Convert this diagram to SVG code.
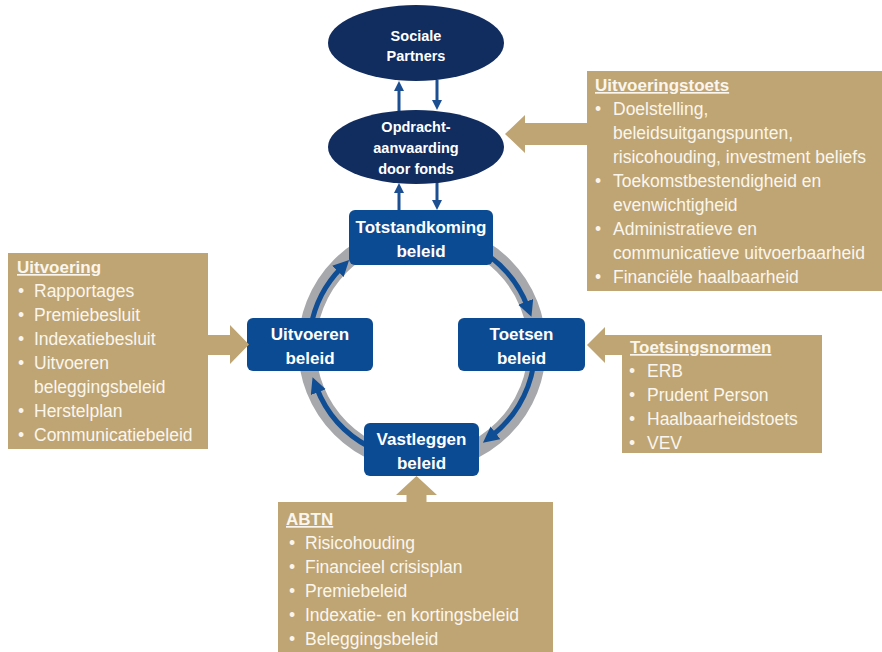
<svg xmlns="http://www.w3.org/2000/svg" width="882" height="652" viewBox="0 0 882 652">
<style>
.ell{fill:#112C5F}
.box{fill:#0B4B93}
.tan{fill:#BFA574}
.lt{font-family:"Liberation Sans",Arial,sans-serif;font-weight:bold;fill:#FFFFFF;text-anchor:middle}
.et{font-size:14.5px}
.bt{font-size:17px}
.tt{font-family:"Liberation Sans",Arial,sans-serif;font-size:17.5px;fill:#FAF6EE}
.hd{font-weight:bold;font-size:17px;text-decoration:underline}
.small{stroke:#1B4F91;stroke-width:3;fill:none}
.cyc{stroke:#0F4D95;stroke-width:5;fill:none}
</style>
<defs>
<marker id="ah" markerUnits="userSpaceOnUse" markerWidth="12" markerHeight="12" refX="4" refY="5" orient="auto">
<path d="M0,0 L10,5 L0,10 z" fill="#1B4F91"/>
</marker>
<marker id="ac" markerUnits="userSpaceOnUse" markerWidth="18" markerHeight="18" refX="5" refY="8" orient="auto">
<path d="M0,0 L16,8 L0,16 z" fill="#0F4D95"/>
</marker>
</defs>
<rect width="882" height="652" fill="#FFFFFF"/>

<g id="ring">
<circle cx="422" cy="347" r="115" fill="none" stroke="#A7A8AB" stroke-width="18"/>
</g>

<g id="connectors">
<path class="cyc" d="M310.7,327.4 A113,113 0 0 1 341.4,267.8" marker-end="url(#ac)"/>
<path class="cyc" d="M486.8,254.4 A113,113 0 0 1 527.5,306.5" marker-end="url(#ac)"/>
<path class="cyc" d="M533.3,366.6 A113,113 0 0 1 491.6,436.0" marker-end="url(#ac)"/>
<path class="cyc" d="M369.0,446.8 A113,113 0 0 1 316.5,387.5" marker-end="url(#ac)"/>
<path class="small" d="M399,111 L399,87" marker-end="url(#ah)"/>
<path class="small" d="M437,80 L437,104" marker-end="url(#ah)"/>
<path class="small" d="M399,210 L399,189" marker-end="url(#ah)"/>
<path class="small" d="M437,183 L437,204" marker-end="url(#ah)"/>
</g>

<g id="sociale-partners">
<ellipse class="ell" cx="416" cy="43" rx="88" ry="38"/>
<text class="lt et" x="416" y="41">Sociale</text>
<text class="lt et" x="416" y="61">Partners</text>
</g>

<g id="opdracht">
<ellipse class="ell" cx="416" cy="147" rx="88" ry="37"/>
<text class="lt et" x="416" y="132">Opdracht-</text>
<text class="lt et" x="416" y="153">aanvaarding</text>
<text class="lt et" x="416" y="174">door fonds</text>
</g>

<g id="totstandkoming">
<rect class="box" x="349" y="210" width="144" height="55" rx="6"/>
<text class="lt bt" x="421" y="233">Totstandkoming</text>
<text class="lt bt" x="421" y="257">beleid</text>
</g>

<g id="uitvoeren">
<rect class="box" x="247" y="318" width="126" height="53" rx="6"/>
<text class="lt bt" x="310" y="340">Uitvoeren</text>
<text class="lt bt" x="310" y="364">beleid</text>
</g>

<g id="toetsen">
<rect class="box" x="458" y="318" width="127" height="53" rx="6"/>
<text class="lt bt" x="521.5" y="340">Toetsen</text>
<text class="lt bt" x="521.5" y="364">beleid</text>
</g>

<g id="vastleggen">
<rect class="box" x="364" y="423" width="115" height="53" rx="6"/>
<text class="lt bt" x="421.5" y="445">Vastleggen</text>
<text class="lt bt" x="421.5" y="469">beleid</text>
</g>

<g id="uitvoeringstoets">
<rect class="tan" x="587" y="71" width="295" height="220"/>
<polygon class="tan" points="588,123 525,123 525,115 505,134 525,153 525,145 588,145"/>
<text class="tt hd" x="595" y="91">Uitvoeringstoets</text>
<text class="tt" x="595" y="115">•</text><text class="tt" x="613" y="115">Doelstelling,</text>
<text class="tt" x="613" y="139">beleidsuitgangspunten,</text>
<text class="tt" x="613" y="163">risicohouding, investment beliefs</text>
<text class="tt" x="595" y="187">•</text><text class="tt" x="613" y="187">Toekomstbestendigheid en</text>
<text class="tt" x="613" y="211">evenwichtigheid</text>
<text class="tt" x="595" y="235">•</text><text class="tt" x="613" y="235">Administratieve en</text>
<text class="tt" x="613" y="259">communicatieve uitvoerbaarheid</text>
<text class="tt" x="595" y="283">•</text><text class="tt" x="613" y="283">Financiële haalbaarheid</text>
</g>

<g id="uitvoering">
<rect class="tan" x="8" y="253" width="200" height="196"/>
<polygon class="tan" points="207,335 230,335 230,325 249,344.5 230,364 230,355 207,355"/>
<text class="tt hd" x="17" y="273">Uitvoering</text>
<text class="tt" x="18" y="297">•</text><text class="tt" x="34" y="297">Rapportages</text>
<text class="tt" x="18" y="321">•</text><text class="tt" x="34" y="321">Premiebesluit</text>
<text class="tt" x="18" y="345">•</text><text class="tt" x="34" y="345">Indexatiebesluit</text>
<text class="tt" x="18" y="369">•</text><text class="tt" x="34" y="369">Uitvoeren</text>
<text class="tt" x="34" y="393">beleggingsbeleid</text>
<text class="tt" x="18" y="417">•</text><text class="tt" x="34" y="417">Herstelplan</text>
<text class="tt" x="18" y="441">•</text><text class="tt" x="34" y="441">Communicatiebeleid</text>
</g>

<g id="toetsingsnormen">
<rect class="tan" x="622" y="335" width="200" height="118"/>
<polygon class="tan" points="623,335 605,335 605,327 587,345 605,363 605,355 623,355"/>
<text class="tt hd" x="630" y="353">Toetsingsnormen</text>
<text class="tt" x="629" y="377">•</text><text class="tt" x="647" y="377">ERB</text>
<text class="tt" x="629" y="401">•</text><text class="tt" x="647" y="401">Prudent Person</text>
<text class="tt" x="629" y="425">•</text><text class="tt" x="647" y="425">Haalbaarheidstoets</text>
<text class="tt" x="629" y="449">•</text><text class="tt" x="647" y="449">VEV</text>
</g>

<g id="abtn">
<rect class="tan" x="278" y="502" width="275" height="150"/>
<polygon class="tan" points="406.5,503 406.5,495 396,495 416.5,476 437,495 426.5,495 426.5,503"/>
<text class="tt hd" x="286" y="525">ABTN</text>
<text class="tt" x="289" y="549">•</text><text class="tt" x="305" y="549">Risicohouding</text>
<text class="tt" x="289" y="573">•</text><text class="tt" x="305" y="573">Financieel crisisplan</text>
<text class="tt" x="289" y="597">•</text><text class="tt" x="305" y="597">Premiebeleid</text>
<text class="tt" x="289" y="621">•</text><text class="tt" x="305" y="621">Indexatie- en kortingsbeleid</text>
<text class="tt" x="289" y="645">•</text><text class="tt" x="305" y="645">Beleggingsbeleid</text>
</g>
</svg>
